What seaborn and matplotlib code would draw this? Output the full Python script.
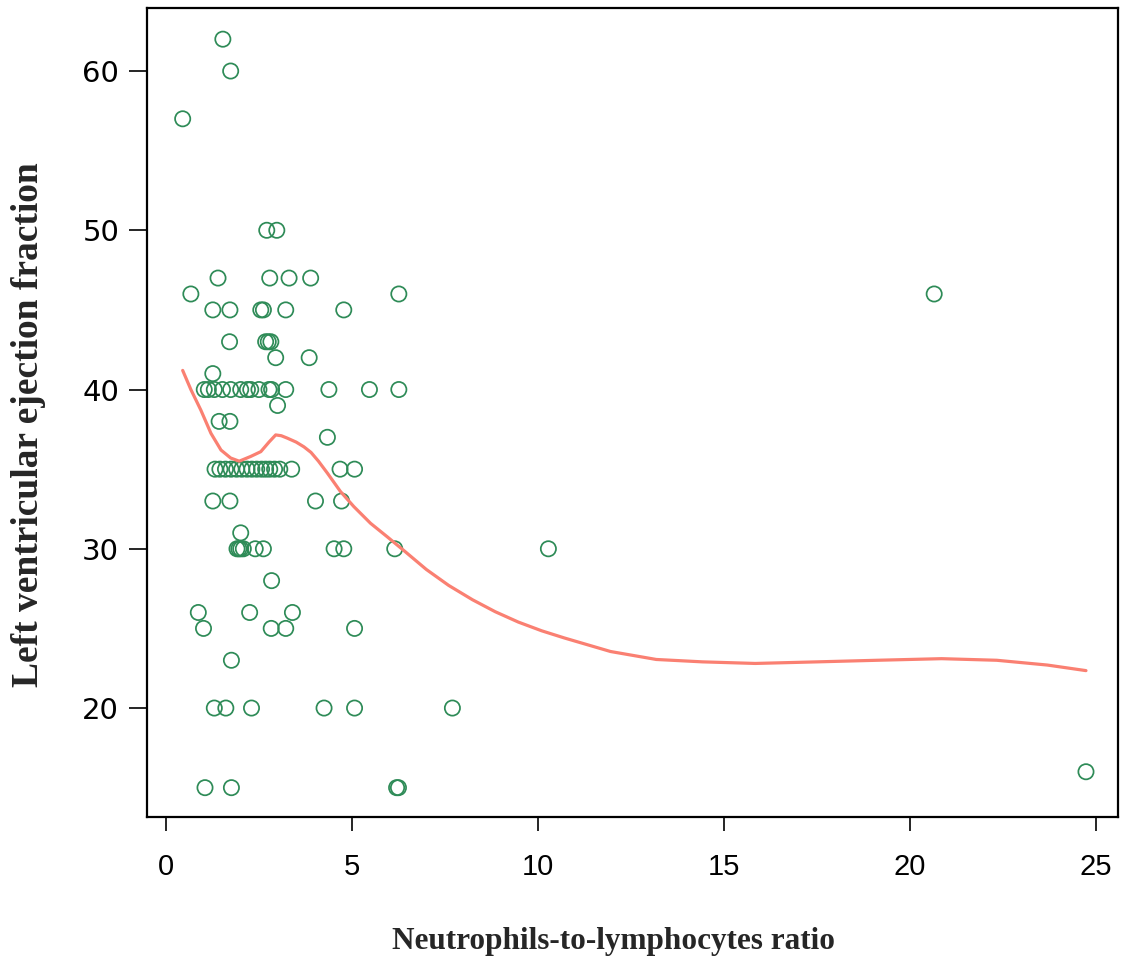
import numpy as np
import pandas as pd
import matplotlib
matplotlib.use("Agg")
import matplotlib.pyplot as plt
import seaborn as sns

# NLR (x) and LVEF (y) for every patient, grouped by LVEF value
nlr = [1.53,
       1.74,
       0.45,
       2.71, 2.98,
       1.40, 2.79, 3.31, 3.89,
       0.67, 6.26, 20.65,
       1.26, 1.72, 2.55, 2.62, 3.22, 4.78,
       1.71, 2.68, 2.75, 2.82,
       2.95, 3.85,
       1.26,
       1.03, 1.14, 1.30, 1.52, 1.74, 2.01, 2.19, 2.28, 2.50, 2.77, 2.84, 3.22, 4.38, 5.47, 6.26,
       3.00,
       1.43, 1.72,
       4.34,
       1.32, 1.45, 1.60, 1.75, 1.90, 2.04, 2.18, 2.31, 2.44, 2.57, 2.68, 2.79, 2.92, 3.06, 3.38, 4.68, 5.07,
       1.26, 1.72, 4.02, 4.72,
       2.01,
       1.91, 1.96, 2.01, 2.08, 2.40, 2.62, 4.52, 4.78, 6.15, 10.28,
       2.84,
       0.87, 2.25, 3.40,
       1.01, 2.83, 3.22, 5.07,
       1.76,
       1.30, 1.61, 2.30, 4.25, 5.07, 7.70,
       24.73,
       1.05, 1.76, 6.20, 6.25]

lvef = [62,
        60,
        57,
        50, 50,
        47, 47, 47, 47,
        46, 46, 46,
        45, 45, 45, 45, 45, 45,
        43, 43, 43, 43,
        42, 42,
        41,
        40, 40, 40, 40, 40, 40, 40, 40, 40, 40, 40, 40, 40, 40, 40,
        39,
        38, 38,
        37,
        35, 35, 35, 35, 35, 35, 35, 35, 35, 35, 35, 35, 35, 35, 35, 35, 35,
        33, 33, 33, 33,
        31,
        30, 30, 30, 30, 30, 30, 30, 30, 30, 30,
        28,
        26, 26, 26,
        25, 25, 25, 25,
        23,
        20, 20, 20, 20, 20, 20,
        16,
        15, 15, 15, 15]

# smoothed trend line
smooth_x = [0.45, 0.67, 0.94, 1.21, 1.48, 1.74, 1.97, 2.28, 2.55, 2.77, 2.95,
            3.10, 3.26, 3.50, 3.71, 3.90, 4.10, 4.34, 4.69, 5.05, 5.50, 5.95,
            6.39, 7.00, 7.60, 8.24, 8.85, 9.47, 10.10, 10.71, 11.95, 13.18,
            14.42, 15.84, 17.51, 19.12, 20.85, 22.33, 23.69, 24.73]
smooth_y = [41.2, 40.0, 38.7, 37.25, 36.2, 35.7, 35.5, 35.8, 36.1, 36.7, 37.15,
            37.1, 36.95, 36.7, 36.4, 36.05, 35.5, 34.75, 33.6, 32.65, 31.6, 30.75,
            29.9, 28.7, 27.7, 26.8, 26.05, 25.4, 24.85, 24.4, 23.55, 23.05,
            22.9, 22.8, 22.9, 23.0, 23.1, 23.0, 22.7, 22.35]

x_ticks = [0, 5, 10, 15, 20, 25]
y_ticks = [20, 30, 40, 50, 60]

df = pd.DataFrame({"nlr": nlr, "lvef": lvef})
trend = pd.DataFrame({"x": smooth_x, "y": smooth_y})

sns.set_style("white")
plt.rcParams["font.family"] = ["Liberation Sans", "DejaVu Sans"]

fig = plt.figure(figsize=(11.21, 9.59), dpi=100)
ax = fig.add_axes([0.1311, 0.1481, 0.8662, 0.8436])

sns.scatterplot(data=df, x="nlr", y="lvef", ax=ax, marker="o", s=120,
                color="#2E8B57", linewidth=1.25, legend=False)
pts = ax.collections[0]
pts.set_facecolor("none")
pts.set_edgecolor("#2E8B57")

sns.lineplot(data=trend, x="x", y="y", ax=ax, color="#FA8072", linewidth=2.3,
             sort=False, estimator=None)

ax.set_xlim(-0.51, 25.59)
ax.set_ylim(13.16, 63.96)
ax.set_xticks(x_ticks)
ax.set_yticks(y_ticks)
ax.tick_params(axis="x", direction="out", length=10, width=1.2, color="black",
               labelsize=21, labelcolor="black", pad=16, bottom=True)
ax.tick_params(axis="y", direction="out", length=13, width=1.2, color="black",
               labelsize=21, labelcolor="black", pad=7, left=True)
for lab in ax.get_yticklabels():
    lab.set_family("DejaVu Sans")
for sp in ax.spines.values():
    sp.set_visible(True)
    sp.set_color("black")
    sp.set_linewidth(1.6)

ax.set_xlabel("Neutrophils-to-lymphocytes ratio", family="Liberation Serif",
              fontweight="bold", fontsize=22.5)
ax.set_ylabel("Left ventricular ejection fraction", family="Liberation Serif",
              fontweight="bold", fontsize=27)
ax.xaxis.set_label_coords(0.48, -0.136)
ax.yaxis.set_label_coords(-0.104, 0.485)

fig.savefig("out.png", dpi=100)
